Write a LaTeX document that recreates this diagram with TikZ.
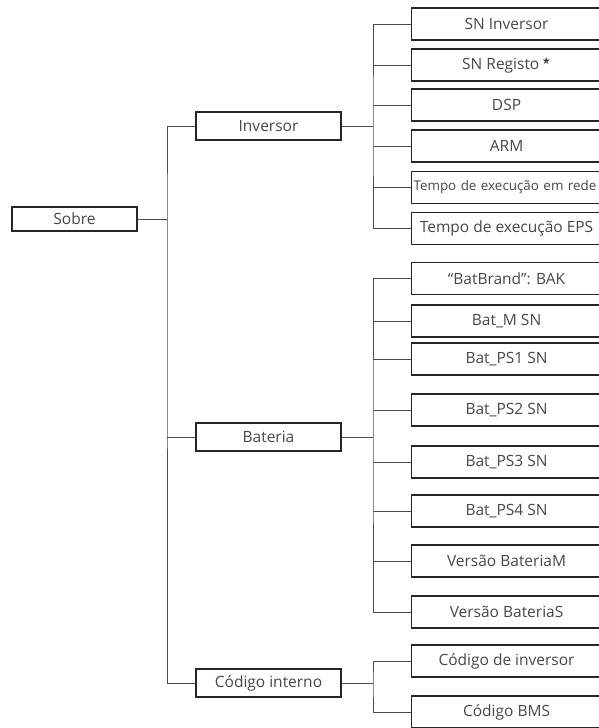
\documentclass[tikz,border=0pt]{standalone}
\usepackage{fontspec}
\setmainfont{Open Sans}
\newfontfamily\starfont{DejaVu Sans}
\usetikzlibrary{positioning}

\begin{document}
\begin{tikzpicture}[x=1pt, y=-1pt, font=\fontsize{15.5}{18}\selectfont]
    \tikzstyle{box} = [rectangle, draw=black!85, line width=1.1pt, text=black!72, inner sep=2pt]
    \tikzstyle{root} = [box, minimum width=125pt, minimum height=24pt]
    \tikzstyle{mid} = [box, minimum width=145pt, minimum height=28pt]
    \tikzstyle{leaf} = [box, anchor=west, minimum width=190pt, minimum height=32pt]
    \tikzstyle{line} = [draw, black!70, line width=0.9pt]

    \useasboundingbox (0,0) rectangle (599,728);
    \clip (0,0) rectangle (599,728);

    % first and second level
    \node [root] (sobre) at (74.5,219) {Sobre};
    \node [mid] (inv) at (268.5,126) {Inversor};
    \node [mid] (bat) at (268.5,437) {Bateria};
    \node [mid] (cod) at (268.5,683) {Código interno};
    \coordinate (bus1) at (167,219);

    % Inversor leaves
    \node [leaf] (sninv) at (411,24) {SN Inversor};
    \node [leaf] (snreg) at (411,65) {SN Registo\,\raisebox{0.6ex}{\starfont\fontsize{10}{10}\selectfont ★}};
    \node [leaf] (dsp) at (411,105) {DSP};
    \node [leaf] (arm) at (411,146) {ARM};
    \node [leaf, text width=186pt, align=left, font=\fontsize{13.4}{16}\selectfont] (rede) at (411,187.5) {\mbox{Tempo de execução em rede}};
    \node [leaf] (eps) at (411,228.5) {Tempo de execução EPS};
    \coordinate (bus2) at (373,126);

    % Bateria leaves
    \node [leaf] (brand) at (411,278.5) {“BatBrand”: BAK};
    \node [leaf] (batm) at (411,321) {Bat\_M SN};
    \node [leaf] (ps1) at (411,359) {Bat\_PS1 SN};
    \node [leaf] (ps2) at (411,410) {Bat\_PS2 SN};
    \node [leaf] (ps3) at (411,462) {Bat\_PS3 SN};
    \node [leaf] (ps4) at (411,511) {Bat\_PS4 SN};
    \node [leaf] (verm) at (411,561) {Versão BateriaM};
    \node [leaf] (vers) at (411,612) {Versão BateriaS};
    \coordinate (bus3) at (373,437);

    % Codigo interno leaves
    \node [leaf] (codinv) at (411,661) {Código de inversor};
    \node [leaf] (bms) at (411,712) {Código BMS};
    \coordinate (bus4) at (373,683);

    % connectors
    \path [line] (sobre.east) -- (bus1);
    \path [line] (inv.west) -| (bus1) |- (cod.west);
    \path [line] (bus1 |- bat.west) -- (bat.west);

    \path [line] (inv.east) -- (bus2);
    \path [line] (sninv.west) -| (bus2) |- (eps.west);
    \foreach \n in {snreg,dsp,arm,rede}
        \path [line] (bus2 |- \n.west) -- (\n.west);

    \path [line] (bat.east) -- (bus3);
    \path [line] (brand.west) -| (bus3) |- (vers.west);
    \foreach \n in {batm,ps1,ps2,ps3,ps4,verm}
        \path [line] (bus3 |- \n.west) -- (\n.west);

    \path [line] (cod.east) -- (bus4);
    \path [line] (codinv.west) -| (bus4) |- (bms.west);
\end{tikzpicture}
\end{document}
